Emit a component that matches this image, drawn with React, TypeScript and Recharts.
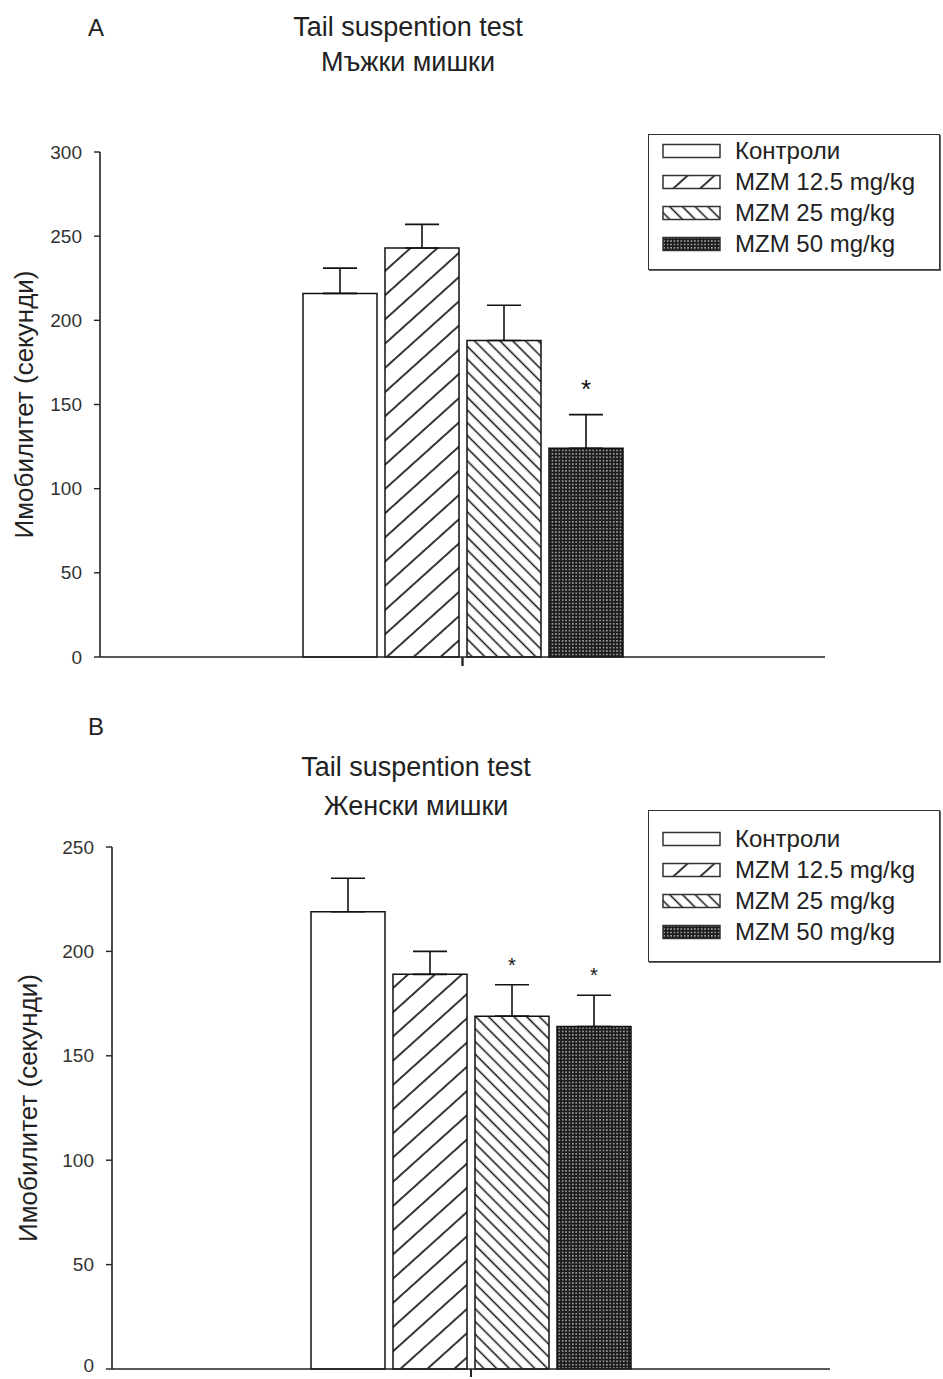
import React from 'react';
import { BarChart, Bar, XAxis, YAxis, ErrorBar, LabelList } from 'recharts';

const seriesNames = ['Контроли', 'MZM 12.5 mg/kg', 'MZM 25 mg/kg', 'MZM 50 mg/kg'];

const maleMeans = [216, 243, 188, 124];
const maleSem = [15, 14, 21, 20];
const maleStars = [false, false, false, true];
const maleTicks = [0, 50, 100, 150, 200, 250, 300];

const femaleMeans = [219, 189, 169, 164];
const femaleSem = [16, 11, 15, 15];
const femaleStars = [false, false, true, true];
const femaleTicks = [0, 50, 100, 150, 200, 250];

const FONT = "'Liberation Sans', Arial, sans-serif";
const PATTERN_IDS = ['', 'hatchFwd', 'hatchBack', 'dots'];
const fillFor = (i: number, prefix = '') => (PATTERN_IDS[i] ? `url(#${prefix}${PATTERN_IDS[i]})` : '#ffffff');

const buildRow = (means: number[], sems: number[]) => {
  const row: any = { group: 'g' };
  means.forEach((m, i) => {
    row[`s${i}`] = m;
    row[`e${i}`] = [0, sems[i]];
  });
  return [row];
};

const Patterns = ({ prefix = '' }: { prefix?: string }) => (
  <defs>
    <pattern id={`${prefix}hatchFwd`} patternUnits="userSpaceOnUse" width="18" height="18" patternTransform="rotate(-42)">
      <rect width="18" height="18" fill="#fff" />
      <line x1="0" y1="9" x2="18" y2="9" stroke="#111" strokeWidth="1.7" />
    </pattern>
    <pattern id={`${prefix}hatchBack`} patternUnits="userSpaceOnUse" width="9" height="9" patternTransform="rotate(45)">
      <rect width="9" height="9" fill="#fff" />
      <line x1="0" y1="4.5" x2="9" y2="4.5" stroke="#111" strokeWidth="1.5" />
    </pattern>
    <pattern id={`${prefix}dots`} patternUnits="userSpaceOnUse" width="3.4" height="3.4">
      <rect width="3.4" height="3.4" fill="#1c1c1c" />
      <rect x="1" y="1" width="1.3" height="1.3" fill="#e8e8e8" />
    </pattern>
  </defs>
);

const LegendBox = ({ top, height, padTop }: { top: number; height: number; padTop: number }) => (
  <div
    style={{
      position: 'absolute',
      left: 648,
      top,
      width: 292,
      height,
      boxSizing: 'border-box',
      border: '1.5px solid #333',
      boxShadow: '1px 1px 0 #666',
      background: '#fff',
      paddingTop: padTop,
      fontFamily: FONT,
    }}
  >
    {seriesNames.map((name, i) => (
      <div key={name} style={{ height: 31, display: 'flex', alignItems: 'center' }}>
        <svg width={72} height={16} style={{ flex: 'none' }}>
          <Patterns prefix={`lg${top}`} />
          <rect x={14} y={1.5} width={57} height={13} fill={fillFor(i, `lg${top}`)} stroke="#333" strokeWidth={1.5} />
        </svg>
        <span style={{ marginLeft: 14, fontSize: 24, color: '#222', whiteSpace: 'nowrap' }}>{name}</span>
      </div>
    ))}
  </div>
);

const starLabel = (sems: number[], stars: boolean[], idx: number, fs: number, lift: number) => (props: any) => {
  const { x, y, width, height, value } = props;
  if (!stars[idx] || !value) return null;
  const top = y - sems[idx] * (height / value);
  return (
    <text x={x + width / 2} y={top - lift} textAnchor="middle" fontSize={fs} fontFamily={FONT} fill="#111">
      *
    </text>
  );
};

// y tick label; the bottom label can be nudged up so it stays inside the page
const yTick = (zeroLift: number) => (props: any) => {
  const { x, y, payload } = props;
  const lift = payload.value === 0 ? zeroLift : 0;
  return (
    <text x={x} y={y - lift} dy="0.35em" textAnchor="end" fontSize={19} fill="#333" fontFamily={FONT}>
      {payload.value}
    </text>
  );
};

type PanelProps = {
  means: number[];
  sems: number[];
  stars: boolean[];
  ticks: number[];
  height: number;
  margin: any;
  yWidth: number;
  frameHeight: number;
  labelDx: number;
  starSize: number;
  starLift: number;
  zeroLift: number;
};

const Panel = (p: PanelProps) => {
  const data = buildRow(p.means, p.sems);
  return (
    <BarChart width={943} height={p.height} data={data} margin={p.margin} barGap={8} barCategoryGap={0}>
      <Patterns />
      <XAxis xAxisId="cat" dataKey="group" hide height={0} />
      <XAxis
        xAxisId="frame"
        type="number"
        domain={[0, 1]}
        ticks={[0, 0.5, 1]}
        height={p.frameHeight}
        tickSize={9}
        tick={() => <g />}
        axisLine={{ stroke: '#222', strokeWidth: 1.6 }}
        tickLine={{ stroke: '#222', strokeWidth: 1.6 }}
      />
      <YAxis
        domain={[0, p.ticks[p.ticks.length - 1]]}
        ticks={p.ticks}
        width={p.yWidth}
        tickSize={6}
        tickMargin={12}
        interval={0}
        axisLine={{ stroke: '#222', strokeWidth: 1.6 }}
        tickLine={{ stroke: '#222', strokeWidth: 1.4 }}
        tick={yTick(p.zeroLift)}
        label={{
          value: 'Имобилитет (секунди)',
          angle: -90,
          position: 'center',
          dx: p.labelDx,
          style: { fontSize: 26, fill: '#222', fontFamily: FONT },
        }}
      />
      {p.means.map((_, i) => (
        <Bar
          key={i}
          xAxisId="cat"
          dataKey={`s${i}`}
          name={seriesNames[i]}
          fill={fillFor(i)}
          stroke="#111"
          strokeWidth={1.5}
          barSize={74}
          isAnimationActive={false}
        >
          <ErrorBar dataKey={`e${i}`} direction="y" width={17} stroke="#111" strokeWidth={1.6} />
          <LabelList dataKey={`s${i}`} content={starLabel(p.sems, p.stars, i, p.starSize, p.starLift)} />
        </Bar>
      ))}
    </BarChart>
  );
};

const titleStyle = (top: number, left: number, size: number): React.CSSProperties => ({
  position: 'absolute',
  top,
  left,
  transform: 'translate(-50%, -50%)',
  fontSize: size,
  fontFamily: FONT,
  color: '#222',
  whiteSpace: 'nowrap',
  lineHeight: 1,
});

export default function App() {
  return (
    <div style={{ position: 'absolute', left: 0, top: 0, width: 943, height: 1379, background: '#fff', overflow: 'hidden' }}>
      <div style={{ position: 'absolute', left: 0, top: 0 }}>
        <Panel
          means={maleMeans}
          sems={maleSem}
          stars={maleStars}
          ticks={maleTicks}
          height={700}
          margin={{ top: 152, right: 118, left: 40, bottom: 23 }}
          yWidth={60}
          frameHeight={20}
          labelDx={-46}
          starSize={26}
          starLift={17}
          zeroLift={0}
        />
      </div>
      <div style={{ position: 'absolute', left: 0, top: 700 }}>
        <Panel
          means={femaleMeans}
          sems={femaleSem}
          stars={femaleStars}
          ticks={femaleTicks}
          height={677}
          margin={{ top: 147, right: 113, left: 42, bottom: 0 }}
          yWidth={70}
          frameHeight={8}
          labelDx={-49}
          starSize={20}
          starLift={13}
          zeroLift={4}
        />
      </div>
      <LegendBox top={134} height={136} padTop={0} />
      <LegendBox top={810} height={152} padTop={12} />
      <div style={titleStyle(28, 96, 24)}>A</div>
      <div style={titleStyle(27, 408, 27)}>Tail suspention test</div>
      <div style={titleStyle(62, 408, 27)}>Мъжки мишки</div>
      <div style={titleStyle(727, 96, 24)}>B</div>
      <div style={titleStyle(767, 416, 27)}>Tail suspention test</div>
      <div style={titleStyle(806, 416, 27)}>Женски мишки</div>
    </div>
  );
}
